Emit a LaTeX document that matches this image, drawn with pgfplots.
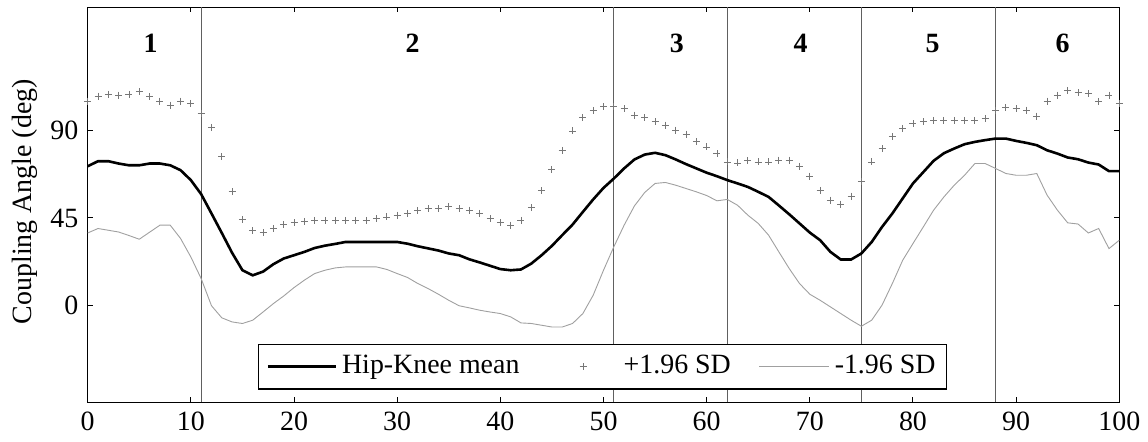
\documentclass[border=0pt]{standalone}
\usepackage{fontspec}
\setmainfont{Liberation Serif}
\usepackage{pgfplots}
\pgfplotsset{compat=1.18}
\usepackage{pgfplotstable}
\definecolor{plusgray}{HTML}{777777}
\definecolor{minusgray}{HTML}{A0A0A0}
\definecolor{vgray}{HTML}{606060}

\pgfplotsset{
  legline68/.style={legend image code/.code={\draw[##1] (0bp,0bp) -- (68bp,0bp);}},
  legline70/.style={legend image code/.code={\draw[##1] (0bp,0bp) -- (70bp,0bp);}},
  legmark70/.style={legend image code/.code={\path (0bp,0bp) (70bp,0bp); \draw[##1] plot coordinates {(35bp,0bp)};}},
}

\pgfplotstableread{
x mean plus minus
0 71.5 104.9 37.3
1 74.1 107.4 39.6
2 74.1 108.3 38.7
3 72.9 108.0 37.8
4 72.0 108.3 36.0
5 72.0 109.7 34.1
6 72.9 107.1 37.7
7 72.9 104.9 41.3
8 72.0 102.8 41.3
9 69.5 104.9 34.5
10 64.4 103.7 25.0
11 57.2 98.6 13.9
12 47.3 91.4 0.0
13 37.3 76.3 -6.2
14 27.1 58.4 -8.3
15 18.2 44.2 -9.1
16 15.6 38.4 -7.4
17 17.5 37.5 -3.2
18 21.3 39.6 1.1
19 24.2 41.6 5.0
20 25.9 42.5 9.3
21 27.6 43.3 13.1
22 29.6 43.8 16.5
23 30.8 43.8 18.2
24 31.7 43.8 19.4
25 32.7 43.8 19.9
26 32.7 43.8 19.9
27 32.7 43.8 19.9
28 32.7 44.7 19.9
29 32.7 45.5 18.6
30 32.7 46.4 16.5
31 31.8 47.3 14.5
32 30.5 48.6 11.4
33 29.4 49.8 8.8
34 28.3 49.8 5.9
35 26.8 51.0 2.8
36 25.9 49.8 0.0
37 23.8 49.0 -1.1
38 22.2 47.3 -2.3
39 20.5 44.7 -3.2
40 18.8 42.5 -4.0
41 18.2 41.3 -5.7
42 18.6 43.8 -8.8
43 21.6 50.3 -9.1
44 25.9 58.9 -10.0
45 30.7 69.8 -10.9
46 36.2 79.7 -10.9
47 41.6 89.6 -9.1
48 48.1 96.5 -4.0
49 54.5 99.9 5.4
50 60.4 102.0 18.2
51 65.2 102.0 30.2
52 70.4 101.1 41.3
53 75.0 97.7 51.2
54 77.5 96.5 58.1
55 78.4 94.3 62.7
56 77.2 92.6 63.2
57 75.0 90.0 61.8
58 72.6 88.0 60.1
59 70.4 84.0 58.4
60 68.2 81.4 56.5
61 66.4 78.0 53.8
62 64.4 73.7 54.5
63 62.7 73.2 51.5
64 60.9 74.3 46.4
65 58.4 73.7 42.2
66 55.8 73.7 36.2
67 51.4 74.6 27.6
68 46.9 74.6 19.1
69 42.2 71.5 11.4
70 37.5 66.4 5.9
71 33.6 59.2 2.8
72 27.6 54.1 -0.6
73 23.7 52.1 -4.0
74 23.7 56.2 -7.4
75 26.8 63.5 -10.5
76 32.7 73.7 -7.4
77 40.4 80.6 0.3
78 47.3 86.6 11.4
79 55.0 90.9 23.3
80 62.7 93.4 31.9
81 68.5 94.3 40.4
82 74.3 95.0 49.0
83 78.2 95.0 55.8
84 80.6 95.0 61.8
85 82.8 95.0 66.9
86 84.0 95.0 72.9
87 84.9 96.0 72.9
88 85.7 100.3 70.4
89 85.7 101.4 67.8
90 84.5 101.1 66.9
91 83.5 100.3 66.9
92 82.3 97.2 67.8
93 79.7 104.9 56.7
94 78.0 108.0 49.0
95 76.0 110.2 42.5
96 75.1 109.1 41.9
97 73.4 108.8 37.3
98 72.4 104.5 39.6
99 69.0 108.0 29.3
100 69.0 103.7 33.6
}\datatable

\begin{document}
\fontsize{28}{34}\selectfont
\begin{tikzpicture}
\useasboundingbox (-87.7bp,-39.7bp) rectangle (1060.3bp,402.3bp);
\begin{axis}[
  at={(0,0)}, anchor=south west,
  scale only axis, width=1031.6bp, height=395bp,
  xmin=0, xmax=100, ymin=-49.5, ymax=153,
  xtick={0,10,...,100}, ytick={0,45,90},
  tick align=inside, major tick length=5bp,
  /pgf/number format/assume math mode=true,
  axis line style={line width=1bp},
  every tick/.style={black, line width=1bp},
  ylabel={Coupling Angle (deg)},
  ylabel style={at={(axis description cs:-0.0608,0.508)}, anchor=center, rotate=0},
  legend columns=3,
  legend style={
    at={(rel axis cs:0.165,0.148)}, anchor=north west,
    draw=black, line width=1.2bp, fill=white,
    inner xsep=8bp, inner ysep=8bp,
    nodes={inner sep=3bp},
    /tikz/every odd column/.append style={column sep=2bp},
    /tikz/every even column/.append style={column sep=25bp},
  },
]
\addplot[vgray, line width=1bp, forget plot] coordinates {(11,-49.5) (11,153)};
\addplot[vgray, line width=1bp, forget plot] coordinates {(51,-49.5) (51,153)};
\addplot[vgray, line width=1bp, forget plot] coordinates {(62,-49.5) (62,153)};
\addplot[vgray, line width=1bp, forget plot] coordinates {(75,-49.5) (75,153)};
\addplot[vgray, line width=1bp, forget plot] coordinates {(88,-49.5) (88,153)};

\addplot[black, line width=2.6bp, legline68]
  table[x=x, y=mean] {\datatable};
\addlegendentry{Hip-Knee mean}

\addplot[plusgray, only marks, mark=+, mark size=3.5bp, mark options={line width=0.9bp}, legmark70]
  table[x=x, y=plus] {\datatable};
\addlegendentry{+1.96 SD}

\addplot[minusgray, line width=0.9bp, legline70]
  table[x=x, y=minus] {\datatable};
\addlegendentry{-1.96 SD}

\node[font=\bfseries] at (axis cs:6.1,134.6) {1};
\node[font=\bfseries] at (axis cs:31.5,134.6) {2};
\node[font=\bfseries] at (axis cs:57.1,134.6) {3};
\node[font=\bfseries] at (axis cs:69.1,134.6) {4};
\node[font=\bfseries] at (axis cs:81.9,134.6) {5};
\node[font=\bfseries] at (axis cs:94.5,134.6) {6};
\end{axis}
\end{tikzpicture}
\end{document}
